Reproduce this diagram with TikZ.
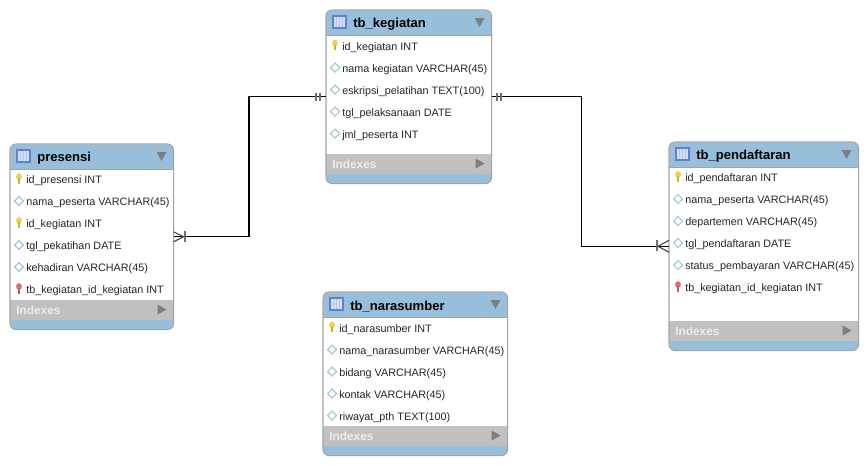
\documentclass[tikz,border=0pt]{standalone}
\usepackage{fontspec}
\setmainfont{Liberation Sans}
\usetikzlibrary{shapes.geometric}
\definecolor{headblue}{HTML}{97BFDB}
\definecolor{bandgray}{HTML}{C0C0C0}
\definecolor{edgegray}{HTML}{A3A3A3}
\definecolor{markgray}{HTML}{707070}
\definecolor{keyyellow}{HTML}{F5CE45}
\definecolor{keyred}{HTML}{DB706A}
\definecolor{colteal}{HTML}{9CCBD4}
\definecolor{iconblue}{HTML}{5F82CF}
\definecolor{iconfill}{HTML}{D3DEF5}
\newcommand{\pxu}{0.75pt}
\tikzset{
  tablebox/.style={fill=headblue, rounded corners=6*\pxu, inner sep=0pt, anchor=north west},
  titletext/.style={font=\bfseries\fontsize{9.8}{11}\selectfont, anchor=west, inner sep=0pt},
  rowtext/.style={font=\fontsize{8.1}{10}\selectfont, anchor=west, inner sep=0pt, text=black!85},
  bandtext/.style={font=\bfseries\fontsize{8.9}{10}\selectfont, anchor=west, inner sep=0pt, text=white!93!black},
  relline/.style={black, line width=0.85pt},
  barmark/.style={markgray, line width=1.5pt},
  crowmark/.style={black!75, line width=0.8pt},
  pkicon/.pic={
    \fill[keyyellow] (0,-3.5) ellipse (2.9 and 3.3);
    \fill[keyyellow!85!black] (-1.2,-2) rectangle (1.2,3.6);
  },
  fkicon/.pic={
    \fill[keyred] (0,-3.5) ellipse (2.9 and 3.3);
    \fill[keyred!85!black] (-1.2,-2) rectangle (1.2,3.6);
  },
  colicon/.pic={
    \draw[colteal, fill=white, line width=0.8pt] (-4.5,-1) -- (0,-5.5) -- (4.5,-1) -- (0,3.5) -- cycle;
  },
}
% one table: name, left, top, width, height, title
\newcommand{\erdtable}[6]{
  \node (#1) [tablebox, minimum width=#4*\pxu, minimum height=#5*\pxu] at (#2,#3) {};
  \fill[white] ([shift={(0,25)}]#1.north west) rectangle ([shift={(0,-30)}]#1.south east);
  \fill[bandgray] ([shift={(0,-30)}]#1.south west) rectangle ([shift={(0,-10)}]#1.south east);
  \draw[edgegray, line width=0.8pt, rounded corners=6*\pxu] (#1.north west) rectangle (#1.south east);
  \draw[edgegray, line width=0.6pt] ([shift={(0,25)}]#1.north west) -- ([shift={(0,25)}]#1.north east);
  % table icon
  \draw[iconblue, fill=iconfill, line width=0.8pt] ([shift={(7,6)}]#1.north west) rectangle ([shift={(20,18)}]#1.north west);
  \foreach \k in {10.5,13.5,16.5}
    \draw[iconblue!45, line width=0.5pt] ([shift={(\k,7)}]#1.north west) -- ([shift={(\k,17)}]#1.north west);
  \node (#1-title) [titletext] at ([shift={(27,14.5)}]#1.north west) {#6};
  \node (#1-bands) [bandtext] at ([shift={(6,-19)}]#1.south west) {Indexes};
  \fill[markgray!90] ([shift={(-17,8)}]#1.north east) -- ([shift={(-7,8)}]#1.north east) -- ([shift={(-12,17)}]#1.north east) -- cycle;
  \fill[markgray!90] ([shift={(-16,-25)}]#1.south east) -- ([shift={(-7,-20)}]#1.south east) -- ([shift={(-16,-15)}]#1.south east) -- cycle;
}
% rows of a table: name, first row offset, icon/text list
\newcommand{\erdrows}[3]{
  \foreach \rowicon/\rowlabel [count=\rownum] in {#3} {
    \pgfmathsetmacro{\rowy}{#2+22*(\rownum-1)}
    \pic at ([shift={(9,\rowy+0.5)}]#1.north west) {\rowicon};
    \node (#1-\rownum) [rowtext] at ([shift={(16,\rowy+1.5)}]#1.north west) {\rowlabel};
  }
}
\begin{document}
\begin{tikzpicture}[x=0.75pt, y=-0.75pt]
  \useasboundingbox (0,0) rectangle (867,464);

  \erdtable{kegiatan}{326}{10}{165}{173}{tb\_kegiatan}
  \erdrows{kegiatan}{36}{pkicon/id\_kegiatan INT, colicon/nama kegiatan VARCHAR(45),
    colicon/eskripsi\_pelatihan TEXT(100), colicon/tgl\_pelaksanaan DATE, colicon/jml\_peserta INT}

  \erdtable{presensi}{10}{144}{163}{185}{presensi}
  \erdrows{presensi}{35.5}{pkicon/id\_presensi INT, colicon/nama\_peserta VARCHAR(45),
    pkicon/id\_kegiatan INT, colicon/tgl\_pekatihan DATE, colicon/kehadiran VARCHAR(45),
    fkicon/tb\_kegiatan\_id\_kegiatan INT}

  \erdtable{pendaftaran}{669}{142}{189}{208}{tb\_pendaftaran}
  \erdrows{pendaftaran}{35.5}{pkicon/id\_pendaftaran INT, colicon/nama\_peserta VARCHAR(45),
    colicon/departemen VARCHAR(45), colicon/tgl\_pendaftaran DATE,
    colicon/status\_pembayaran VARCHAR(45), fkicon/tb\_kegiatan\_id\_kegiatan INT}

  \erdtable{narasumber}{323}{292}{184}{163}{tb\_narasumber}
  \erdrows{narasumber}{36}{pkicon/id\_narasumber INT, colicon/nama\_narasumber VARCHAR(45),
    colicon/bidang VARCHAR(45), colicon/kontak VARCHAR(45), colicon/riwayat\_pth TEXT(100)}

  % relations
  \draw[relline] (kegiatan.west) -- ++(-77,0) |- (presensi.east);
  \draw[relline] (kegiatan.east) -- ++(90,0) |- (pendaftaran.west);

  \draw[barmark] ([shift={(-10,-4)}]kegiatan.west) -- ([shift={(-10,4)}]kegiatan.west);
  \draw[barmark] ([shift={(-6,-4)}]kegiatan.west) -- ([shift={(-6,4)}]kegiatan.west);
  \draw[barmark] ([shift={(5,-4)}]kegiatan.east) -- ([shift={(5,4)}]kegiatan.east);
  \draw[barmark] ([shift={(9,-4)}]kegiatan.east) -- ([shift={(9,4)}]kegiatan.east);

  \draw[barmark] ([shift={(11,-6)}]presensi.east) -- ([shift={(11,5)}]presensi.east);
  \draw[crowmark] ([shift={(0,-5)}]presensi.east) -- ([shift={(10,0)}]presensi.east) -- ([shift={(0,5)}]presensi.east);
  \draw[barmark] ([shift={(-12,-6)}]pendaftaran.west) -- ([shift={(-12,5)}]pendaftaran.west);
  \draw[crowmark] ([shift={(0,-6)}]pendaftaran.west) -- ([shift={(-11,0)}]pendaftaran.west) -- ([shift={(0,6)}]pendaftaran.west);
\end{tikzpicture}
\end{document}
